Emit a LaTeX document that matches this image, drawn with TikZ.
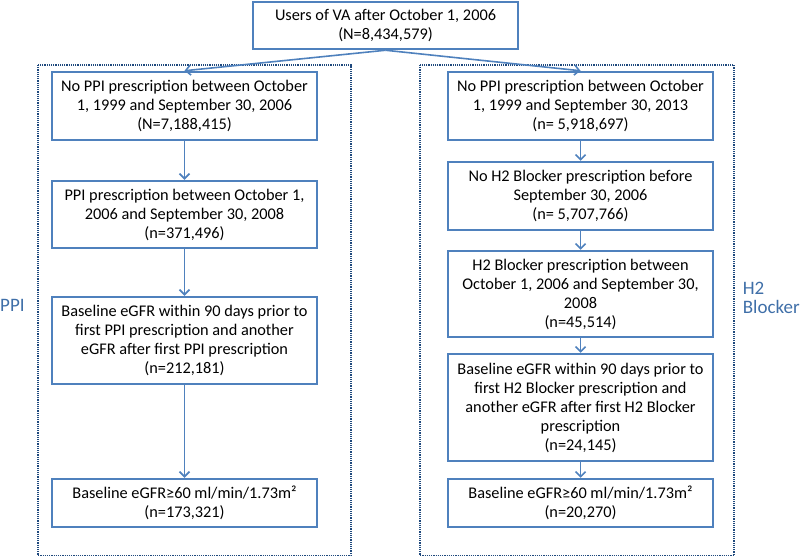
\documentclass[tikz,border=0pt]{standalone}
\usepackage{fontspec}
\setmainfont{Carlito}
\usepackage{tikz}
\usetikzlibrary{positioning}
\usetikzlibrary{arrows.meta}

\definecolor{boxblue}{HTML}{4F81BD}
\definecolor{framblue}{HTML}{1F497D}
\definecolor{labblue}{HTML}{3F6FA8}

\begin{document}
\begin{tikzpicture}[x=1pt, y=-1pt,
	stepbox/.style={draw=boxblue, line width=2.5pt, fill=white, align=center, inner sep=0pt, minimum width=265pt, font=\fontsize{16.3}{19}\selectfont},
	flow/.style={draw=boxblue, line width=1.6pt, -{Straight Barb[length=5pt, width=10pt]}},
	frame/.style={draw=framblue, line width=1.5pt, dash pattern=on 1.2pt off 1pt},
	armlabel/.style={text=labblue, align=left, inner sep=0pt, font=\fontsize{19}{18.5}\selectfont}]

	\useasboundingbox (0,0) rectangle (805,557);
	% Frames %
	\draw [frame] (38,65) rectangle (351,555.5);
	\draw [frame] (420,65) rectangle (734,555.5);
	% Labels %
	\node [armlabel, anchor=base west] (ppi) at (0,311.7) {PPI};
	\node [armlabel, anchor=west] (h2) at (742.7,298) {H2\\Blocker};
	% Top %
	\node [stepbox, minimum height=47pt] (users) at (385.5,25.5) {Users of VA after October 1, 2006\\(N=8,434,579)};
	% PPI arm %
	\node [stepbox, minimum height=68pt] (ppia) at (184.5,106) {No PPI prescription between October\\1, 1999 and September 30, 2006\\(N=7,188,415)};
	\node [stepbox, minimum height=67pt] (ppib) at (184.5,214.5) {PPI prescription between October 1,\\2006 and September 30, 2008\\(n=371,496)};
	\node [stepbox, minimum height=87pt] (ppic) at (184.5,340.5) {Baseline eGFR within 90 days prior to\\first PPI prescription and another\\eGFR after first PPI prescription\\(n=212,181)};
	\node [stepbox, minimum height=48pt] (ppid) at (184.5,503) {Baseline eGFR≥60 ml/min/1.73m²\\(n=173,321)};
	% H2 Blocker arm %
	\node [stepbox, minimum height=68pt] (hba) at (580.5,106) {No PPI prescription between October\\1, 1999 and September 30, 2013\\(n= 5,918,697)};
	\node [stepbox, minimum height=68pt] (hbb) at (580.5,196) {No H2 Blocker prescription before\\September 30, 2006\\(n= 5,707,766)};
	\node [stepbox, minimum height=86pt] (hbc) at (580.5,294) {H2 Blocker prescription between\\October 1, 2006 and September 30,\\2008\\(n=45,514)};
	\node [stepbox, minimum height=107pt] (hbd) at (580.5,407.5) {Baseline eGFR within 90 days prior to\\first H2 Blocker prescription and\\another eGFR after first H2 Blocker\\prescription\\(n=24,145)};
	\node [stepbox, minimum height=48pt] (hbe) at (580.5,503) {Baseline eGFR≥60 ml/min/1.73m²\\(n=20,270)};
	% Arrows %
	\draw [flow] (users.south) -- (ppia.north);
	\draw [flow] (users.south) -- (hba.north);
	\draw [flow] (ppia) -- (ppib);
	\draw [flow] (ppib) -- (ppic);
	\draw [flow] (ppic) -- (ppid);
	\draw [flow] (hba) -- (hbb);
	\draw [flow] (hbb) -- (hbc);
	\draw [flow] (hbc) -- (hbd);
	\draw [flow] (hbd) -- (hbe);
\end{tikzpicture}
\end{document}
